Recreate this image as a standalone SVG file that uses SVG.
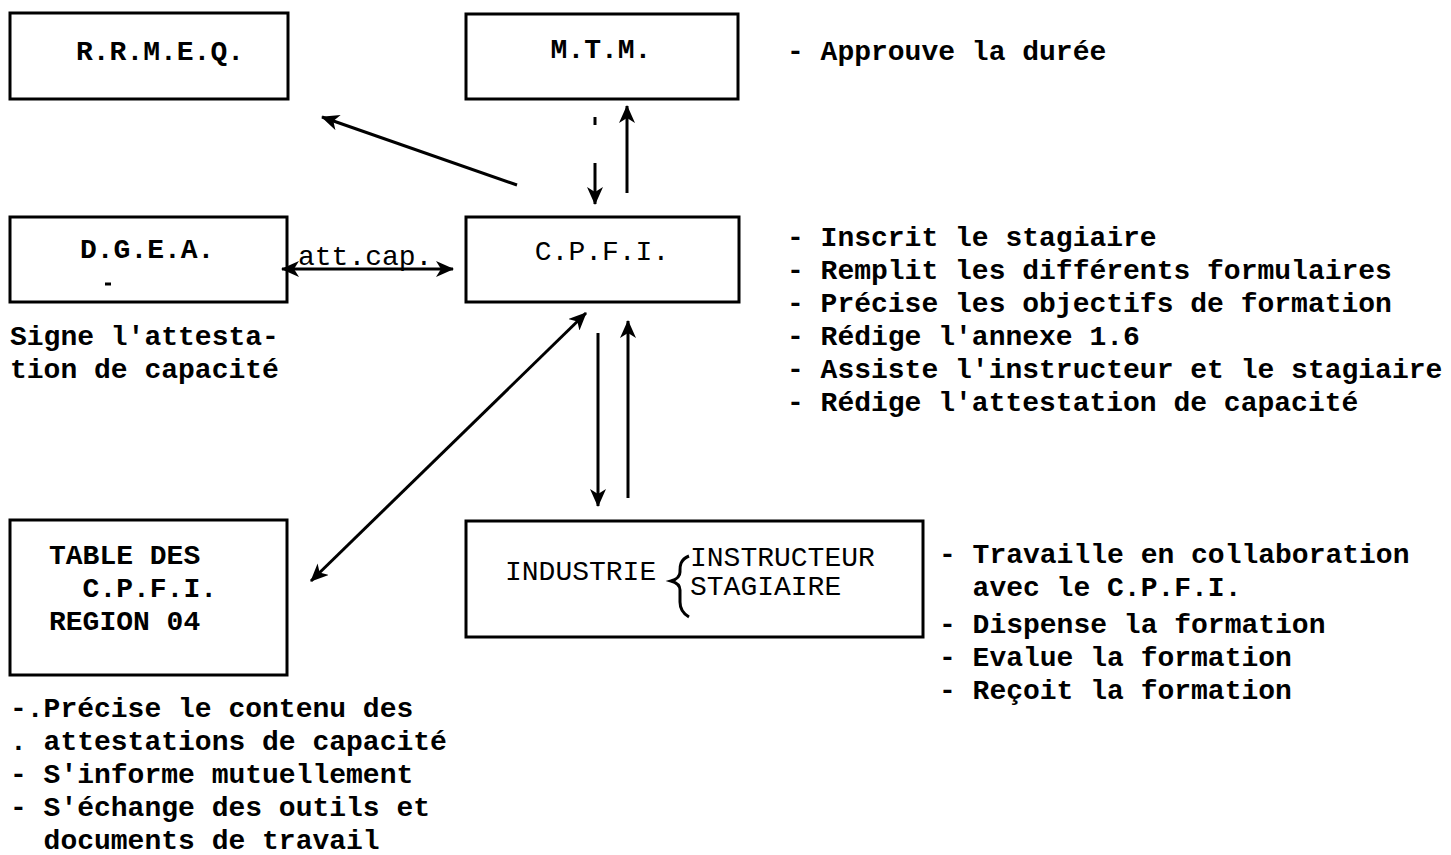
<svg xmlns="http://www.w3.org/2000/svg" width="1451" height="855" viewBox="0 0 1451 855">
<defs>
<style>
.box{fill:none;stroke:#000;stroke-width:3}
.t{font-family:"Liberation Mono","DejaVu Sans Mono",monospace;font-size:28px;fill:#000;font-weight:bold}
.tn{font-family:"Liberation Mono","DejaVu Sans Mono",monospace;font-size:28px;fill:#000}
.ln{fill:none;stroke:#000;stroke-width:3}
</style>
<marker id="ah" viewBox="0 0 18 16" refX="17" refY="8" markerWidth="18" markerHeight="16" markerUnits="userSpaceOnUse" orient="auto-start-reverse">
<path d="M0,0 L18,8 L0,16 L5,8 Z" fill="#000"/>
</marker>
</defs>
<rect width="1451" height="855" fill="#fff"/>

<g id="rrmeq">
<rect class="box" x="10" y="13" width="278" height="86"/>
<text class="t" x="160" y="60" text-anchor="middle">R.R.M.E.Q.</text>
</g>

<g id="mtm">
<rect class="box" x="466" y="14" width="272" height="85"/>
<text class="t" x="601" y="58" text-anchor="middle">M.T.M.</text>
</g>

<g id="mtm-note">
<text class="t" x="787" y="60">- Approuve la durée</text>
</g>

<g id="dgea">
<rect class="box" x="10" y="217" width="277" height="85"/>
<text class="t" x="80" y="258">D.G.E.A.</text>
<line class="ln" x1="105" y1="284" x2="111" y2="284" stroke-width="2"/>
</g>

<g id="dgea-note">
<text class="t" x="10" y="345">Signe l'attesta-</text>
<text class="t" x="10" y="378">tion de capacité</text>
</g>

<g id="cpfi">
<rect class="box" x="466" y="217" width="273" height="85"/>
<text class="tn" x="602" y="260" text-anchor="middle">C.P.F.I.</text>
</g>

<g id="cpfi-note">
<text class="t" x="787" y="246">- Inscrit le stagiaire</text>
<text class="t" x="787" y="279">- Remplit les différents formulaires</text>
<text class="t" x="787" y="312">- Précise les objectifs de formation</text>
<text class="t" x="787" y="345">- Rédige l'annexe 1.6</text>
<text class="t" x="787" y="378">- Assiste l'instructeur et le stagiaire</text>
<text class="t" x="787" y="411">- Rédige l'attestation de capacité</text>
</g>

<g id="table">
<rect class="box" x="10" y="520" width="277" height="155"/>
<text class="t" x="49" y="564">TABLE DES</text>
<text class="t" x="49" y="597" xml:space="preserve">  C.P.F.I.</text>
<text class="t" x="49" y="630">REGION 04</text>
</g>

<g id="table-note">
<text class="t" x="10" y="717">-.Précise le contenu des</text>
<text class="t" x="10" y="750" xml:space="preserve">. attestations de capacité</text>
<text class="t" x="10" y="783">- S'informe mutuellement</text>
<text class="t" x="10" y="816">- S'échange des outils et</text>
<text class="t" x="10" y="849" xml:space="preserve">  documents de travail</text>
</g>

<g id="industrie">
<rect class="box" x="466" y="521" width="457" height="116"/>
<text class="tn" x="505" y="580">INDUSTRIE</text>
<path class="ln" stroke-width="2.5" d="M689,556 C679,560 680,568 680,572 C680,576 678,579 671,581 C678,583 680,586 680,590 L680,602 C680,608 682,613 689,617"/>
<text class="tn" x="690" y="566">INSTRUCTEUR</text>
<text class="tn" x="690" y="595">STAGIAIRE</text>
</g>

<g id="industrie-note">
<text class="t" x="939" y="563">- Travaille en collaboration</text>
<text class="t" x="939" y="596" xml:space="preserve">  avec le C.P.F.I.</text>
<text class="t" x="939" y="633">- Dispense la formation</text>
<text class="t" x="939" y="666">- Evalue la formation</text>
<text class="t" x="939" y="699">- Reçoit la formation</text>
</g>

<g id="connectors">
<line class="ln" x1="517" y1="185" x2="322" y2="117" stroke-width="3.5" marker-end="url(#ah)"/>
<line class="ln" x1="595" y1="117" x2="595" y2="125"/>
<line class="ln" x1="595" y1="163" x2="595" y2="204" marker-end="url(#ah)"/>
<line class="ln" x1="627" y1="193" x2="627" y2="106" marker-end="url(#ah)"/>
<line class="ln" x1="282" y1="269" x2="453" y2="269" marker-start="url(#ah)" marker-end="url(#ah)"/>
<text class="tn" x="298" y="265">att.cap.</text>
<line class="ln" x1="311" y1="581" x2="586" y2="313" marker-start="url(#ah)" marker-end="url(#ah)"/>
<line class="ln" x1="598" y1="333" x2="598" y2="506" marker-end="url(#ah)"/>
<line class="ln" x1="628" y1="498" x2="628" y2="321" marker-end="url(#ah)"/>
</g>
</svg>
